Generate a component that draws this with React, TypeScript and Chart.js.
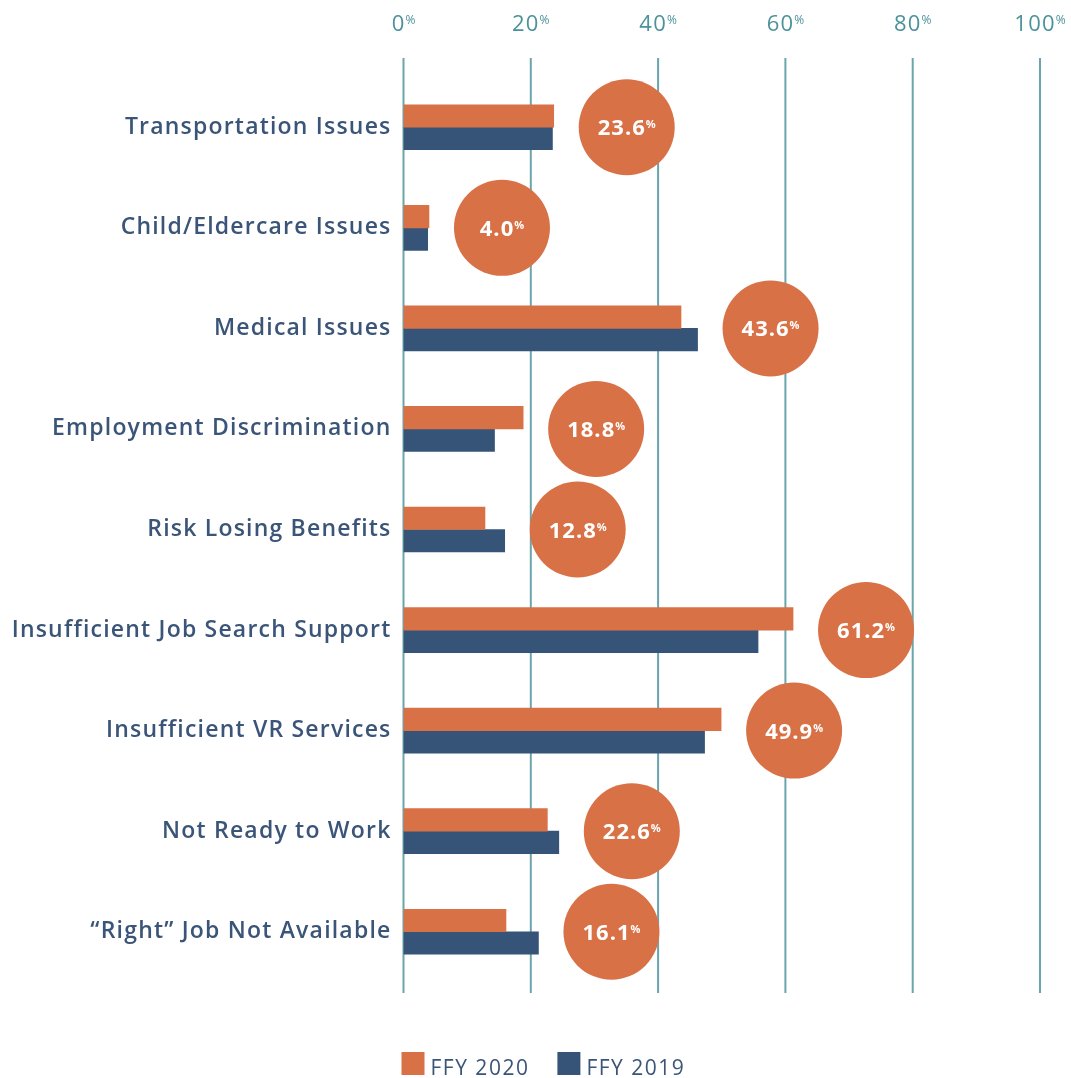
import { useEffect, useRef } from "react";
import { Chart, registerables } from "chart.js";
Chart.register(...registerables);

const categories = [
  "Transportation Issues",
  "Child/Eldercare Issues",
  "Medical Issues",
  "Employment Discrimination",
  "Risk Losing Benefits",
  "Insufficient Job Search Support",
  "Insufficient VR Services",
  "Not Ready to Work",
  "\u201CRight\u201D Job Not Available",
];
const ffy2020 = [23.6, 4.0, 43.6, 18.8, 12.8, 61.2, 49.9, 22.6, 16.1];
const ffy2019 = [23.4, 3.8, 46.2, 14.3, 15.9, 55.7, 47.3, 24.4, 21.2];
const xTickValues = [0, 20, 40, 60, 80, 100];
const seriesLabels = ["FFY 2020", "FFY 2019"];

const ORANGE = "#D97146";
const BLUE = "#365477";
const TEXT = "#3A5578";
const TEAL = "#4C929B";
const GRID = "#6BA5AC";

const decorPlugin = {
  id: "decor",
  beforeDraw(chart: any) {
    chart.ctx.letterSpacing = "1.2px";
  },
  beforeDatasetsDraw(chart: any) {
    const { ctx, chartArea, scales } = chart;
    const xs = scales.x;
    ctx.save();
    ctx.strokeStyle = GRID;
    ctx.lineWidth = 2;
    xTickValues.forEach((v) => {
      const px = xs.getPixelForValue(v);
      ctx.beginPath();
      ctx.moveTo(px, chartArea.top - 19);
      ctx.lineTo(px, chartArea.bottom + 11);
      ctx.stroke();
    });
    xTickValues.forEach((v) => {
      const px = xs.getPixelForValue(v);
      const num = String(v);
      ctx.letterSpacing = "1.2px";
      ctx.font = '400 22px "Open Sans"';
      const wn = ctx.measureText(num).width;
      ctx.letterSpacing = "0px";
      ctx.font = '400 12px "Open Sans"';
      const wp = ctx.measureText("%").width;
      const start = px - (wn + wp) / 2;
      ctx.fillStyle = TEAL;
      ctx.textBaseline = "alphabetic";
      ctx.textAlign = "left";
      ctx.letterSpacing = "1.2px";
      ctx.font = '400 22px "Open Sans"';
      ctx.fillText(num, start, 31);
      ctx.letterSpacing = "0px";
      ctx.font = '400 12px "Open Sans"';
      ctx.fillText("%", start + wn, 24);
    });
    ctx.restore();
  },
  afterDatasetsDraw(chart: any) {
    const { ctx, scales } = chart;
    const xs = scales.x;
    const ys = scales.y;
    ctx.save();
    categories.forEach((_, i) => {
      const a = ffy2020[i];
      const b = ffy2019[i];
      const cx = xs.getPixelForValue(Math.max(a, b)) + 73;
      const cy = ys.getPixelForValue(i);
      ctx.beginPath();
      ctx.fillStyle = ORANGE;
      ctx.arc(cx, cy, 48, 0, Math.PI * 2);
      ctx.fill();
      const num = a.toFixed(1);
      ctx.letterSpacing = "1px";
      ctx.font = 'bold 22px "Open Sans"';
      const wn = ctx.measureText(num).width;
      ctx.letterSpacing = "0px";
      ctx.font = 'bold 11px "Open Sans"';
      const wp = ctx.measureText("%").width;
      const start = cx - (wn + wp) / 2;
      ctx.fillStyle = "#FFFFFF";
      ctx.textAlign = "left";
      ctx.textBaseline = "alphabetic";
      ctx.letterSpacing = "1px";
      ctx.font = 'bold 22px "Open Sans"';
      ctx.fillText(num, start, cy + 8);
      ctx.letterSpacing = "0px";
      ctx.font = 'bold 11px "Open Sans"';
      ctx.fillText("%", start + wn, cy + 1);
    });
    ctx.restore();
  },
  afterDraw(chart: any) {
    const { ctx, chartArea } = chart;
    ctx.save();
    let x = chartArea.left - 2;
    const y = 1052;
    chart.data.datasets.forEach((ds: any, i: number) => {
      ctx.fillStyle = ds.backgroundColor;
      ctx.fillRect(x, y, 23, 23);
      x += 29;
      ctx.letterSpacing = "1.5px";
      ctx.font = '21px "Open Sans"';
      ctx.fillStyle = TEXT;
      ctx.textAlign = "left";
      ctx.textBaseline = "alphabetic";
      ctx.fillText(seriesLabels[i], x, 1074.5);
      x += ctx.measureText(seriesLabels[i]).width + 28;
    });
    ctx.restore();
  },
};

export default function App() {
  const ref = useRef<HTMLCanvasElement | null>(null);
  useEffect(() => {
    if (!ref.current) return;
    const chart = new Chart(ref.current, {
      type: "bar",
      data: {
        labels: categories,
        datasets: [
          { label: seriesLabels[0], data: ffy2020, backgroundColor: ORANGE, barThickness: 22.5 },
          { label: seriesLabels[1], data: ffy2019, backgroundColor: BLUE, barThickness: 22.5 },
        ],
      },
      options: {
        indexAxis: "y",
        responsive: false,
        animation: false,
        layout: { padding: { top: 0, left: 0, right: 31, bottom: 96 } },
        plugins: { legend: { display: false }, tooltip: { enabled: false } },
        scales: {
          x: {
            position: "top",
            min: 0,
            max: 100,
            ticks: { display: false, stepSize: 20 },
            grid: { display: false, drawTicks: false },
            border: { display: false },
            afterFit: (s: any) => {
              s.height = 77;
            },
          },
          y: {
            ticks: {
              color: TEXT,
              padding: 12,
              font: { family: '"Open Sans"', size: 23, weight: 600 },
            },
            grid: { display: false, drawTicks: false },
            border: { display: false },
            afterFit: (s: any) => {
              s.width = 403.5;
            },
          },
        },
      },
      plugins: [decorPlugin],
    });
    return () => chart.destroy();
  }, []);
  return (
    <div style={{ position: "fixed", left: 0, top: 0, width: 1071, height: 1078, background: "#fff" }}>
      <canvas ref={ref} width={1071} height={1078} style={{ width: 1071, height: 1078, display: "block" }} />
    </div>
  );
}
